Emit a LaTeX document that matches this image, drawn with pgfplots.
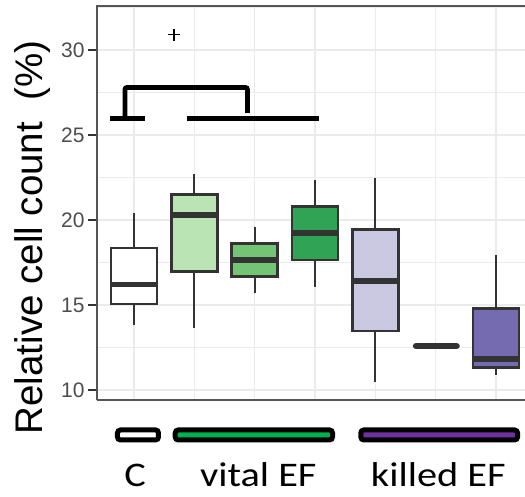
\documentclass[border=0pt]{standalone}
\usepackage{fontspec}
\setmainfont{Liberation Sans}
\newfontfamily\carlito[FakeStretch=1.17]{Carlito}
\usepackage{pgfplots}
\pgfplotsset{compat=1.18}
\definecolor{gridc}{HTML}{EBEBEB}
\definecolor{boxc}{HTML}{333333}
\definecolor{tickl}{HTML}{4D4D4D}
\definecolor{frame}{HTML}{555555}
\definecolor{gA}{HTML}{BAE4B3}
\definecolor{gB}{HTML}{74C476}
\definecolor{gC}{HTML}{31A354}
\definecolor{pA}{HTML}{CBC9E2}
\definecolor{pC}{HTML}{756BB1}
\definecolor{offgreen}{HTML}{00B050}
\definecolor{offpurple}{HTML}{7030A0}
\pgfplotsset{
  whisk/.style={boxc, line width=2.2pt, no marks},
  boxs/.style={draw=boxc, fill=#1, line width=2.6pt, no marks, line join=miter},
  med/.style={boxc, line width=5.8pt, no marks},
}
\begin{document}
\begin{tikzpicture}
\begin{axis}[name=ax, scale only axis, width=428pt, height=394pt,
  xmin=0.387, xmax=7.48, ymin=9.41, ymax=32.59,
  axis line style={draw=none},
  xtick={1,...,7}, xticklabels={}, major x tick style={draw=none},
  ytick={10,15,20,25,30}, minor ytick={12.5,17.5,22.5,27.5,32.5},
  ytick pos=left, xtick pos=left,
  xmajorgrids, ymajorgrids, yminorgrids,
  major grid style={color=gridc, line width=1.4pt},
  minor grid style={color=gridc, line width=1pt},
  tick align=outside, major tick length=9pt, minor tick length=0pt,
  ytick style={draw=boxc, line width=1.4pt},
  yticklabel style={font=\fontsize{21}{21}\selectfont, text=tickl},
  /pgf/number format/assume math mode=true,
  clip=false,
]
\draw[frame, line width=1.5pt] (rel axis cs:0,0) -- (rel axis cs:1,0);
\draw[frame, line width=1.5pt] (rel axis cs:0,0) -- (rel axis cs:0,1) -- (rel axis cs:1,1);

% Box 1 (C): lw 13.8, q1 15.05, med 16.2, q3 18.35, uw 20.4
\addplot[whisk] coordinates {(1,13.8) (1,15.05)};
\addplot[whisk] coordinates {(1,18.35) (1,20.4)};
\addplot[boxs=white] coordinates {(0.62,15.05) (1.38,15.05) (1.38,18.35) (0.62,18.35)} -- cycle;
\addplot[med] coordinates {(0.62,16.2) (1.38,16.2)};
% Box 2: 13.63, 16.96, 20.3, 21.5, 22.7
\addplot[whisk] coordinates {(2,13.63) (2,16.96)};
\addplot[whisk] coordinates {(2,21.5) (2,22.7)};
\addplot[boxs=gA] coordinates {(1.62,16.96) (2.38,16.96) (2.38,21.5) (1.62,21.5)} -- cycle;
\addplot[med] coordinates {(1.62,20.3) (2.38,20.3)};
% Box 3: 15.69, 16.66, 17.65, 18.63, 19.6
\addplot[whisk] coordinates {(3,15.69) (3,16.66)};
\addplot[whisk] coordinates {(3,18.63) (3,19.6)};
\addplot[boxs=gB] coordinates {(2.62,16.66) (3.38,16.66) (3.38,18.63) (2.62,18.63)} -- cycle;
\addplot[med] coordinates {(2.62,17.65) (3.38,17.65)};
% Box 4: 16.08, 17.65, 19.22, 20.78, 22.35
\addplot[whisk] coordinates {(4,16.08) (4,17.65)};
\addplot[whisk] coordinates {(4,20.78) (4,22.35)};
\addplot[boxs=gC] coordinates {(3.62,17.65) (4.38,17.65) (4.38,20.78) (3.62,20.78)} -- cycle;
\addplot[med] coordinates {(3.62,19.22) (4.38,19.22)};
% Box 5: 10.45, 13.47, 16.43, 19.45, 22.45
\addplot[whisk] coordinates {(5,10.45) (5,13.47)};
\addplot[whisk] coordinates {(5,19.45) (5,22.45)};
\addplot[boxs=pA] coordinates {(4.62,13.47) (5.38,13.47) (5.38,19.45) (4.62,19.45)} -- cycle;
\addplot[med] coordinates {(4.62,16.43) (5.38,16.43)};
% Box 6: all values 12.59
\addplot[boxc, line width=6.5pt, line cap=round, no marks] coordinates {(5.675,12.59) (6.345,12.59)};
% Box 7: 10.88, 11.33, 11.82, 14.8, 17.94
\addplot[whisk] coordinates {(7,10.88) (7,11.33)};
\addplot[whisk] coordinates {(7,14.8) (7,17.94)};
\addplot[boxs=pC] coordinates {(6.62,11.33) (7.38,11.33) (7.38,14.8) (6.62,14.8)} -- cycle;
\addplot[med] coordinates {(6.62,11.82) (7.38,11.82)};

% significance annotations
\addplot[black, line width=4.7pt, no marks] coordinates {(0.602,25.98) (1.182,25.98)};
\addplot[black, line width=4.7pt, no marks] coordinates {(1.873,25.98) (4.07,25.98)};
\addplot[black, line width=4.7pt, no marks, rounded corners=2pt] coordinates {(0.851,25.98) (0.851,27.8) (2.88,27.8) (2.88,26.3)};
\addplot[black, only marks, mark=+, mark size=6pt, mark options={line width=1.3pt}] coordinates {(1.663,30.9)};

% group bars
\draw[black, line width=5pt, rounded corners=3pt, fill=white] (axis cs:0.7265,7.647) rectangle (axis cs:1.406,7.059);
\draw[black, line width=5pt, rounded corners=3pt, fill=offgreen] (axis cs:1.683,7.647) rectangle (axis cs:4.290,7.059);
\draw[black, line width=5pt, rounded corners=3pt, fill=offpurple] (axis cs:4.759,7.647) rectangle (axis cs:7.357,7.059);

\node[anchor=base, inner sep=0pt, font=\carlito\fontsize{34.5}{36}\selectfont] at (axis cs:1.017,4.33) {C};
\node[anchor=base, inner sep=0pt, font=\carlito\fontsize{34.5}{36}\selectfont] at (axis cs:3.061,4.33) {vital EF};
\node[anchor=base, inner sep=0pt, font=\carlito\fontsize{34.5}{36}\selectfont] at (axis cs:6.044,4.33) {killed EF};

\node[rotate=90, anchor=base, font=\fontsize{38.5}{40}\selectfont] at (axis cs:-0.508,18.97) {Relative cell count\ \ (\%)};
\end{axis}
\pgfresetboundingbox
\path ([shift={(-97pt,-96pt)}]ax.south west) rectangle ([shift={(0pt,6pt)}]ax.north east);
\end{tikzpicture}
\end{document}
